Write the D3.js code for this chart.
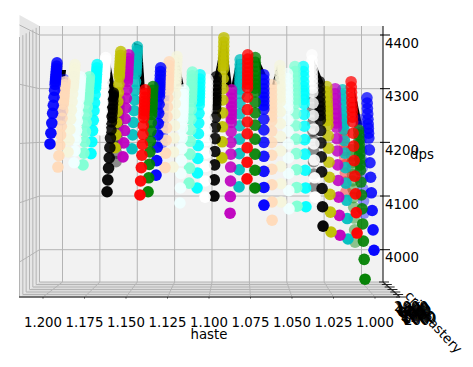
<!DOCTYPE html>
<html><head><meta charset="utf-8">
<style>html,body{margin:0;padding:0;background:#fff}svg{display:block}text{font-family:"DejaVu Sans",sans-serif;font-size:13.3px;fill:#000}</style>
<script src="https://cdn.jsdelivr.net/npm/d3@7"></script></head><body>
<svg id="c" width="473" height="367"></svg>
<script>
const hasteTicks=[1.2,1.175,1.15,1.125,1.1,1.075,1.05,1.025,1.0];
const dpsTicks=[4400,4300,4200,4100,4000];
const depthTicks=[0,1,2,3,4,5,6];
const depthLabels=["2000","1800","1600","1400","1200","1000","800","600","400","200","2000","1500","1000","500","200"];
const seriesColors=["b","b","e","p","a","q","n","w","k","y","k","m","c","r","g","b","b","p","e","a","q","n","w","k","y","m","c","r","g","b","p","e","a","q","n","w","k","k","y","m","c","r","g","r","b","g","b"];
const seriesDepth=[0,1,0,0,0,0,0,0,0,0,1,0,0,0,0,0,1,0,0,0,0,0,0,0,0,0,0,0,0,0,0,0,0,0,0,0,1,0,0,0,0,0,1,1,1,0,0];
const seriesRow=[0,0,0,0,0,0,0,0,0,0,0,0,0,1,1,1,1,1,1,1,1,1,1,1,1,1,1,2,2,2,2,2,2,2,2,2,2,2,2,2,2,3,3,3,3,3,3];
const seriesHaste=[1.1958,1.1892,1.1849,1.1910,1.1813,1.1759,1.1711,1.1651,1.1614,1.1566,1.1560,1.1518,1.1464,1.1416,1.1367,1.1319,1.1283,1.1265,1.1217,1.1175,1.1120,1.1072,1.1024,1.0970,1.0922,1.0873,1.0819,1.0771,1.0723,1.0669,1.0620,1.0566,1.0518,1.0470,1.0416,1.0361,1.0367,1.0313,1.0265,1.0211,1.0163,1.0108,1.0120,1.0175,1.0066,1.0060,1.0006];
const seriesDps=[
[4197,4217,4236,4254,4269,4284,4297,4308,4313,4318,4322,4327,4332,4337,4342,4348],
[4242,4252,4262,4270,4278,4285,4292,4297,4302,4307,4312,4317],
[4182,4204,4224,4243,4260,4276,4290,4302,4307,4312,4317,4322,4328,4334,4339,4345],
[4154,4175,4195,4214,4230,4245,4259,4271,4276,4281,4286,4291,4296,4302,4307,4313],
[4162,4184,4204,4222,4239,4254,4268,4280,4285,4290,4295,4300,4305,4311,4316,4322],
[4158,4180,4201,4220,4237,4252,4266,4279,4284,4289,4294,4299,4305,4311,4316,4322],
[4179,4201,4222,4241,4259,4274,4289,4301,4306,4312,4317,4322,4327,4333,4339,4345],
[4223,4241,4258,4274,4288,4301,4312,4322,4326,4331,4335,4339,4344,4349,4353,4358],
[4108,4130,4152,4171,4190,4208,4223,4238,4246,4255,4262,4270,4277,4285,4288,4292],
[4190,4214,4237,4257,4276,4293,4308,4322,4327,4333,4338,4344,4350,4356,4362,4369],
[4164,4180,4194,4207,4219,4230,4240,4249,4256,4263,4271,4279],
[4173,4199,4222,4244,4264,4282,4298,4313,4319,4325,4330,4336,4343,4350,4356,4363],
[4188,4214,4237,4259,4279,4297,4313,4328,4334,4340,4345,4351,4358,4365,4371,4378],
[4102,4128,4153,4176,4196,4215,4231,4246,4252,4259,4265,4271,4277,4284,4291,4298],
[4108,4134,4159,4182,4202,4221,4237,4252,4258,4265,4271,4277,4283,4290,4297,4304],
[4139,4166,4191,4214,4235,4254,4271,4286,4292,4299,4305,4311,4318,4325,4332,4339],
[4199,4212,4225,4236,4247,4256,4264,4272,4278,4284,4291,4298],
[4153,4180,4204,4227,4248,4266,4283,4298,4304,4311,4316,4322,4329,4336,4343,4350],
[4154,4182,4208,4231,4253,4272,4290,4305,4312,4319,4325,4331,4338,4346,4353,4360],
[4087,4115,4142,4166,4188,4208,4226,4242,4249,4256,4262,4268,4275,4283,4290,4298],
[4124,4152,4178,4202,4223,4243,4261,4276,4283,4290,4296,4302,4309,4317,4324,4331],
[4115,4143,4170,4194,4216,4236,4254,4270,4277,4284,4290,4296,4303,4311,4318,4326],
[4098,4128,4155,4180,4203,4224,4243,4259,4266,4273,4279,4286,4294,4302,4309,4317],
[4100,4130,4158,4183,4207,4228,4247,4263,4270,4278,4284,4291,4298,4306,4314,4322],
[4171,4201,4229,4255,4279,4300,4319,4336,4343,4350,4357,4364,4371,4379,4387,4395],
[4068,4099,4128,4154,4178,4200,4220,4237,4244,4252,4259,4266,4274,4282,4290,4298],
[4117,4149,4179,4206,4231,4253,4273,4291,4299,4307,4314,4321,4329,4337,4345,4354],
[4132,4163,4190,4216,4238,4261,4284,4302,4309,4317,4324,4331,4339,4347,4355,4363],
[4115,4148,4178,4206,4232,4255,4275,4294,4301,4309,4316,4324,4332,4341,4349,4358],
[4083,4116,4146,4174,4200,4223,4243,4262,4269,4277,4284,4292,4300,4309,4317,4326],
[4055,4089,4121,4150,4176,4200,4221,4240,4248,4257,4264,4272,4280,4289,4298,4307],
[4089,4123,4155,4184,4211,4235,4257,4276,4284,4292,4299,4307,4316,4325,4334,4343],
[4076,4110,4142,4171,4197,4221,4242,4261,4269,4278,4285,4293,4301,4310,4319,4328],
[4081,4116,4149,4179,4206,4231,4253,4272,4280,4289,4297,4305,4314,4323,4332,4341],
[4080,4115,4148,4178,4205,4230,4252,4272,4280,4289,4296,4304,4313,4323,4332,4341],
[4098,4134,4167,4197,4225,4250,4273,4293,4301,4310,4318,4326,4335,4344,4353,4363],
[4117,4141,4164,4185,4204,4221,4236,4250,4262,4273,4285,4298],
[4044,4080,4114,4145,4173,4199,4222,4242,4250,4259,4267,4275,4284,4294,4303,4313],
[4033,4070,4103,4135,4163,4189,4212,4232,4241,4250,4258,4266,4275,4285,4294,4304],
[4027,4064,4098,4129,4158,4184,4207,4228,4236,4245,4253,4262,4271,4281,4290,4300],
[4020,4058,4092,4124,4153,4180,4203,4224,4233,4242,4250,4259,4269,4279,4288,4298],
[4031,4069,4104,4137,4166,4193,4217,4238,4247,4257,4265,4274,4283,4293,4303,4313],
[4014,4037,4059,4079,4097,4113,4128,4140,4152,4162,4174,4186],
[4108,4126,4143,4158,4172,4185,4196,4206,4215,4223,4233,4242],
[4068,4091,4113,4133,4152,4168,4183,4196,4207,4218,4230,4242],
[3945,3982,4016,4048,4076,4102,4126,4148,4158,4169,4178,4188,4196,4204,4214,4223],
[3999,4037,4073,4106,4135,4162,4186,4208,4217,4226,4234,4243,4253,4263,4273,4283]
];
const spikes=[
[[1.1898,4335],[1.1861,4335],[1.1873,4307]],
[[1.1620,4354],[1.1596,4350],[1.1560,4289],[1.1608,4289]],
[[1.1452,4386],[1.1404,4380],[1.1386,4298],[1.1416,4298]],
[[1.1187,4360],[1.1151,4304],[1.1199,4304]],
[[1.0922,4391],[1.0970,4317],[1.0934,4317]],
[[1.0898,4391],[1.0861,4302],[1.0898,4302]],
[[1.0831,4358],[1.0867,4302],[1.0825,4302]],
[[1.0705,4358],[1.0657,4326],[1.0693,4326]],
[[1.0590,4343],[1.0620,4307],[1.0572,4307]],
[[1.0367,4354],[1.0307,4309],[1.0367,4309]],
[[1.0127,4305],[1.0078,4233],[1.0114,4233]]
];

const palette=d3.scaleOrdinal()
 .domain(["b","e","p","a","q","n","w","k","y","m","c","r","g"])
 .range(["#0000ff","#f5f5dc","#ffdab9","#f0ffff","#7fffd4","#00ffff","#ffffff","#000000","#bfbf00","#bf00bf","#00bfbf","#ff0000","#008000"]);
const svg=d3.select("#c");
const xFront=d3.scaleLinear().domain([1,1.2]).range([375,43]);
const xBack=d3.scaleLinear().domain([1,1.2]).range([361.5,62.5]);
const y=d3.scaleLinear().domain([4000,4400]).range([249.7,35]);
const yLeft=d3.scaleLinear().domain([4000,4400]).range([262,25]);
const wallX=d3.scaleLinear().domain([0,6]).range([39.5,19.5]);
const floorY=d3.scaleLinear().domain([0,6]).range([282,297]);
const persp=d3.scaleLinear().domain([0,300]).range([1,0.934]);
const fade=d3.scaleLinear().domain([0,300]).range([0.97,0.72]).clamp(true);
const cx=261, grid="#b4b4b4";
const poly=(pts,fill)=>svg.append("polygon").attr("points",pts.map(p=>p.join(",")).join(" ")).attr("fill",fill);
const L=(x1,y1,x2,y2,c,w)=>svg.append("line").attr("x1",x1).attr("y1",y1).attr("x2",x2).attr("y2",y2).attr("stroke",c).attr("stroke-width",w||1);
// panes
poly([[39.5,26],[383,26],[383,282],[39.5,282]],"#f2f2f2");
poly([[19.5,15],[39.5,26],[39.5,282],[19.5,297]],"#e6e6e6");
poly([[19.5,297],[39.5,282],[383,282],[400,297]],"#dcdcdc");
// grid
hasteTicks.forEach(h=>{L(xBack(h),26,xBack(h),282,grid);L(xBack(h),282,xFront(h),297,grid);});
dpsTicks.forEach(d=>{L(39.5,y(d),383,y(d),grid);L(19.5,yLeft(d),39.5,y(d),grid);});
depthTicks.forEach(t=>{
 L(wallX(t),26-(wallX(t)-39.5)*0.55,wallX(t),floorY(t),grid);
 L(wallX(t),floorY(t),383+(floorY(t)-282)*1.13,floorY(t),grid);
});
// axes lines
L(383,26,383,282,"#000");
L(19,297,400,297,"#555",1.6);
L(383,282,400,297,"#333",1.4);
depthTicks.forEach(t=>L(383+(floorY(t)-282)*1.13-4,floorY(t),383+(floorY(t)-282)*1.13+6,floorY(t),"#222"));
// ridge spikes
svg.append("g").selectAll("polygon").data(spikes).join("polygon")
 .attr("points",s=>s.map(p=>[xFront(p[0]),y(p[1])].join(",")).join(" ")).attr("fill","#000");
// points: faded back columns first, then each row right to left, lower values on top
const pts=[];
seriesDps.forEach((ds,i)=>ds.forEach(d=>pts.push({i,d,rise:d-ds[0]})));
pts.sort((a,b)=>d3.descending(seriesDepth[a.i],seriesDepth[b.i])
 ||d3.ascending(seriesRow[a.i],seriesRow[b.i])
 ||d3.ascending(seriesHaste[a.i],seriesHaste[b.i])
 ||d3.descending(a.d,b.d));
svg.append("g").selectAll("circle").data(pts).join("circle")
 .attr("cx",p=>cx+(xFront(seriesHaste[p.i])-cx)*persp(p.rise))
 .attr("cy",p=>y(p.d)).attr("r",5.8)
 .attr("fill",p=>palette(seriesColors[p.i]))
 .attr("fill-opacity",p=>seriesDepth[p.i]?0.42:fade(p.rise));
// ticks
dpsTicks.forEach(d=>L(380,y(d),390,y(d),"#000"));
hasteTicks.forEach(h=>L(xFront(h),297,xFront(h),298.5,"#333"));
svg.append("g").selectAll("text").data(dpsTicks).join("text").attr("x",385).attr("y",d=>y(d)+12.5).text(d=>d);
svg.append("g").selectAll("text").data(hasteTicks).join("text").attr("text-anchor","middle")
 .attr("x",h=>xFront(h)).attr("y",327).text(d3.format(".3f"));
svg.append("text").attr("x",209).attr("y",339).attr("text-anchor","middle").text("haste");
svg.append("text").attr("x",422).attr("y",159).attr("text-anchor","middle").text("dps");
// overlapping depth-axis tick labels
const depthX=d3.scaleLinear().domain([0,14]).range([394,404]);
const depthY=d3.scaleLinear().domain([0,14]).range([311,325]);
svg.append("g").selectAll("text").data(depthLabels).join("text")
 .attr("x",(d,i)=>depthX(i)).attr("y",(d,i)=>depthY(i)).text(d=>d);
svg.append("text").attr("transform","translate(415,301) rotate(47)").attr("text-anchor","middle").attr("dy","0.35em").text("crit");
svg.append("text").attr("transform","translate(441,331) rotate(47)").attr("text-anchor","middle").attr("dy","0.35em").text("mastery");
</script></body></html>
